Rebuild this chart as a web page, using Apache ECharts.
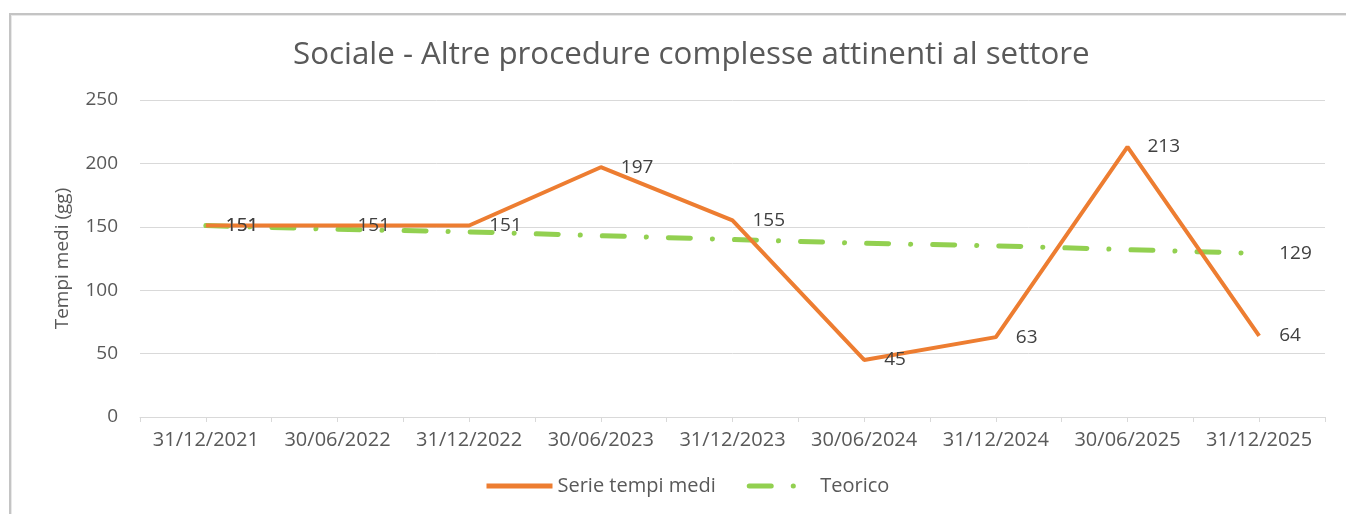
<!DOCTYPE html>
<html>
<head>
<meta charset="utf-8">
<script src="https://cdn.jsdelivr.net/npm/echarts@6/dist/echarts.min.js"></script>
<style>
    body { margin: 0; background: #fff; overflow: hidden; }
    #frame {
        position: absolute; left: 9px; top: 13px; width: 1400px; height: 600px;
        border-left: 2px solid #c4c4c4; border-top: 2px solid #c4c4c4;
        box-shadow: inset 1px 1px 0 #e8e8e8;
    }
    #chart { position: absolute; left: 0; top: 0; width: 1346px; height: 514px; }
</style>
</head>
<body>
<div id="frame"></div>
<div id="chart"></div>
<script>
    // dati
    var dateArr = ['31/12/2021', '30/06/2022', '31/12/2022', '30/06/2023', '31/12/2023',
        '30/06/2024', '31/12/2024', '30/06/2025', '31/12/2025'];
    var tempiArr = [151, 151, 151, 197, 155, 45, 63, 213, 64];
    var teoricoArr = [151, 148, 146, 143, 140, 137, 135, 132, 129];
    var yTicks = [0, 50, 100, 150, 200, 250];

    var font = '"Open Sans", "Noto Sans", sans-serif';
    var myChart = echarts.init(document.getElementById('chart'));

    var labelStyle = {
        show: true,
        position: 'right',
        distance: 20,
        color: '#404040',
        fontSize: 19,
        fontFamily: font
    };

    var option = {
        animation: false,
        title: {
            text: 'Sociale - Altre procedure complesse attinenti al settore',
            left: 288,
            top: 35,
            textStyle: { color: '#595959', fontSize: 31.3, fontWeight: 'normal', fontFamily: font }
        },
        legend: {
            bottom: 13,
            left: 479,
            itemWidth: 66,
            itemHeight: 14,
            itemGap: 31,
            itemStyle: { opacity: 0 },
            lineStyle: { width: 5 },
            textStyle: { color: '#595959', fontSize: 20, fontFamily: font },
            data: ['Serie tempi medi', 'Teorico']
        },
        grid: { left: 140, right: 21, top: 100, bottom: 97, containLabel: false },
        xAxis: [
            {
                type: 'category',
                data: dateArr,
                boundaryGap: true,
                axisLine: { lineStyle: { color: '#d9d9d9', width: 1 } },
                axisTick: { show: true, length: 5, lineStyle: { color: '#d9d9d9' } },
                axisLabel: { color: '#595959', fontSize: 20, fontFamily: font, margin: 13, interval: 0 }
            },
            {
                type: 'category',
                data: dateArr,
                position: 'bottom',
                boundaryGap: true,
                axisLine: { show: false },
                axisTick: { show: true, alignWithLabel: true, length: 5, lineStyle: { color: '#d9d9d9' } },
                axisLabel: { show: false }
            }
        ],
        yAxis: {
            type: 'value',
            min: yTicks[0],
            max: yTicks[yTicks.length - 1],
            interval: 50,
            name: 'Tempi medi (gg)',
            nameLocation: 'middle',
            nameGap: 68,
            nameTextStyle: { color: '#595959', fontSize: 19, fontFamily: font },
            axisLine: { show: false },
            axisTick: { show: false },
            splitLine: { lineStyle: { color: '#d9d9d9', width: 1 } },
            axisLabel: { color: '#595959', fontSize: 19, fontFamily: font, margin: 22 }
        },
        series: []
    };

    option.series.push({
        name: 'Teorico',
        type: 'line',
        data: teoricoArr,
        symbol: 'circle',
        symbolSize: 0,
        lineStyle: { color: '#92d050', width: 5, type: [22, 22, 0.1, 22], cap: 'round' },
        itemStyle: { color: '#92d050' },
        label: Object.assign({}, labelStyle, {
            formatter: function (p) {
                return (p.dataIndex === 0 || p.dataIndex === teoricoArr.length - 1) ? p.value : '';
            }
        }),
        z: 2
    });
    option.series.push({
        name: 'Serie tempi medi',
        type: 'line',
        data: tempiArr,
        symbol: 'circle',
        symbolSize: 0,
        lineStyle: { color: '#ed7d31', width: 4 },
        itemStyle: { color: '#ed7d31' },
        label: labelStyle,
        z: 3
    });

    myChart.setOption(option);
</script>
</body>
</html>
